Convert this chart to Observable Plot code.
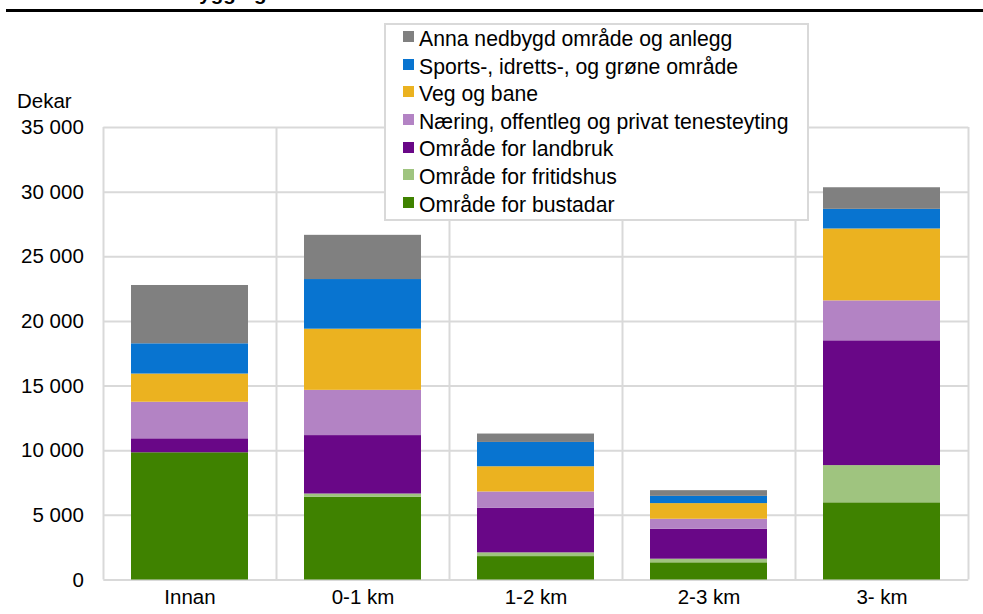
<!DOCTYPE html>
<html><head><meta charset="utf-8">
<script src="https://cdn.jsdelivr.net/npm/d3@7"></script>
<script src="https://cdn.jsdelivr.net/npm/@observablehq/plot@0.6"></script>
<style>
body{margin:0;background:#fff;font-family:"Liberation Sans",Arial,sans-serif;color:#000;}
#wrap{position:relative;width:983px;height:614px;overflow:hidden;}
#title{position:absolute;left:148px;top:-17px;font-weight:bold;font-size:20.5px;line-height:20.5px;white-space:nowrap;}
#rule{position:absolute;left:6px;right:0;top:9px;height:3px;background:#000;}
#ylab{position:absolute;left:17px;top:91px;font-size:20.5px;line-height:20.5px;}
#chart{position:absolute;left:0;top:0;}
#legend{position:absolute;left:384px;top:23px;width:425px;height:198px;box-sizing:border-box;border:2px solid #d9d9d9;background:#fff;padding:0 0 0 17px;font-size:21.2px;line-height:27.6px;}
.item{display:flex;align-items:center;white-space:nowrap;}
.sw{width:11px;height:11px;margin-right:5px;position:relative;top:-2px;flex:none;}
</style>
</head><body>
<div id="wrap">
  <div id="title">Nedbygging</div>
  <div id="rule"></div>
  <div id="chart"></div>
  <div id="ylab">Dekar</div>
  <div id="legend"></div>
</div>
<script>
const categories = ["Innan", "0-1 km", "1-2 km", "2-3 km", "3- km"];
const seriesNames = [
  "Område for bustadar",
  "Område for fritidshus",
  "Område for landbruk",
  "Næring, offentleg og privat tenesteyting",
  "Veg og bane",
  "Sports-, idretts-, og grøne område",
  "Anna nedbygd område og anlegg"
];
const colors = ["#3f8200", "#9fc47f", "#690787", "#b383c4", "#ebb220", "#0874d0", "#808080"];
const bustadar   = [9840, 6390, 1810, 1330, 5970];
const fritidshus = [0, 260, 290, 280, 2880];
const landbruk   = [1080, 4520, 3440, 2320, 9650];
const naering    = [2830, 3500, 1270, 770, 3090];
const veg        = [2180, 4730, 1950, 1210, 5560];
const sports     = [2340, 3840, 1880, 560, 1520];
const anna       = [4510, 3420, 650, 440, 1670];
const yTicks = [0, 5000, 10000, 15000, 20000, 25000, 30000, 35000];
const legendOrder = [...seriesNames].reverse();

const seriesValues = [bustadar, fritidshus, landbruk, naering, veg, sports, anna];
const rows = [];
seriesNames.forEach((s, si) => {
  categories.forEach((c, ci) => rows.push({cat: c, series: s, value: seriesValues[si][ci]}));
});

const fmt = d3.formatLocale({decimal: ",", thousands: " ", grouping: [3], currency: ["", ""]}).format(",");

const W = 983, H = 614, mL = 103.3, mR = 14.7, mT = 127, mB = 34.5;
const step = (W - mL - mR) / categories.length;

const plot = Plot.plot({
  width: W, height: H,
  marginTop: mT, marginBottom: mB, marginLeft: mL, marginRight: mR,
  style: {fontFamily: "'Liberation Sans', Arial, sans-serif", fontSize: "20.5px", color: "#000", background: "transparent", overflow: "visible"},
  x: {domain: categories, paddingInner: 0.324, paddingOuter: 0.162, label: null},
  y: {domain: [0, 35000], label: null},
  color: {domain: seriesNames, range: colors},
  marks: [
    Plot.ruleY(yTicks, {stroke: "#d9d9d9", strokeWidth: 2}),
    Plot.ruleX(categories, {x: d => d, dx: -step / 2, stroke: "#d9d9d9", strokeWidth: 2}),
    Plot.ruleX(categories.slice(-1), {x: d => d, dx: step / 2, stroke: "#d9d9d9", strokeWidth: 2}),
    Plot.barY(rows, {x: "cat", y: "value", fill: "series", order: seriesNames}),
    Plot.axisY({ticks: yTicks, tickSize: 0, tickPadding: 20, tickFormat: fmt, label: null, fontSize: 20.5, fill: "#000"}),
    Plot.axisX({tickSize: 0, tickPadding: 9, label: null, fontSize: 20.5, fill: "#000"})
  ]
});
document.getElementById("chart").appendChild(plot);

const legend = document.getElementById("legend");
legendOrder.forEach(s => {
  const item = document.createElement("div");
  item.className = "item";
  const sw = document.createElement("span");
  sw.className = "sw";
  sw.style.background = colors[seriesNames.indexOf(s)];
  const t = document.createElement("span");
  t.textContent = s;
  item.appendChild(sw);
  item.appendChild(t);
  legend.appendChild(item);
});
</script>
</body></html>
